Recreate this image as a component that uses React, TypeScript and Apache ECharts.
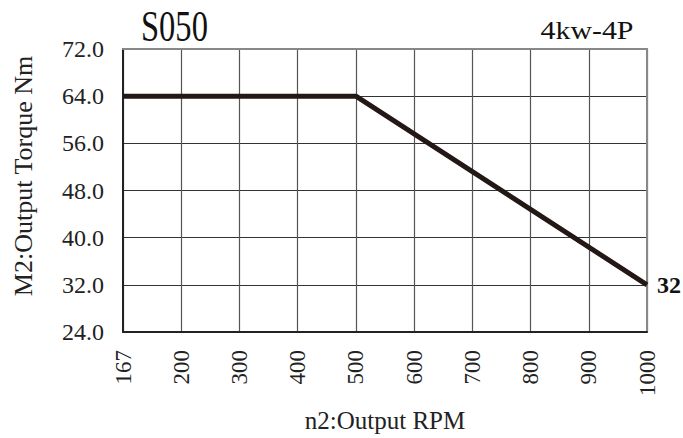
import React, { useEffect, useRef } from "react";
import * as echarts from "echarts";

const categories = ["167", "200", "300", "400", "500", "600", "700", "800", "900", "1000"];
const torque: (number | null)[] = [64, null, null, null, 64, null, null, null, null, 32];
const yMin = 24;
const yMax = 72;
const yStep = 8;
const titleText = "S050";
const subtitleText = "4kw-4P";
const endLabelText = "32";
const xAxisName = "n2:Output RPM";
const yAxisName = "M2:Output Torque Nm";

const FONT = "'Liberation Serif', 'DejaVu Serif', serif";

export default function App() {
  const ref = useRef<HTMLDivElement>(null);
  useEffect(() => {
    if (!ref.current) return;
    const chart = echarts.init(ref.current, undefined, { renderer: "svg" });
    chart.setOption({
      animation: false,
      backgroundColor: "#fff",
      grid: { left: 123, right: 36, top: 49, bottom: 100, containLabel: false },
      graphic: [
        {
          type: "text",
          x: 141,
          y: 26,
          scaleX: 0.74,
          style: {
            text: titleText,
            font: `44px ${FONT}`,
            fill: "#111",
            align: "left",
            verticalAlign: "middle",
          },
        },
        {
          type: "text",
          x: 587,
          y: 30,
          scaleX: 1.15,
          style: {
            text: subtitleText,
            font: `26px ${FONT}`,
            fill: "#111",
            align: "center",
            verticalAlign: "middle",
          },
        },
        {
          type: "text",
          x: 23,
          y: 176,
          rotation: Math.PI / 2,
          style: {
            text: yAxisName,
            font: `26px ${FONT}`,
            fill: "#222",
            align: "center",
            verticalAlign: "middle",
          },
        },
      ],
      xAxis: [
        {
          type: "category",
          data: categories,
          boundaryGap: false,
          name: xAxisName,
          nameLocation: "middle",
          nameGap: 76,
          nameTextStyle: { fontFamily: FONT, fontSize: 25, color: "#222" },
          axisLine: { lineStyle: { color: "#222", width: 2 } },
          axisTick: { show: false },
          axisLabel: {
            rotate: 90,
            margin: 18,
            interval: 0,
            fontFamily: FONT,
            fontSize: 23,
            color: "#222",
          },
          splitLine: { show: true, lineStyle: { color: "#555", width: 1.2 } },
        },
        {
          type: "category",
          data: categories,
          boundaryGap: false,
          position: "top",
          axisLine: { show: true, lineStyle: { color: "#888", width: 2 } },
          axisTick: { show: false },
          axisLabel: { show: false },
          splitLine: { show: false },
        },
      ],
      yAxis: [
        {
          type: "value",
          min: yMin,
          max: yMax,
          interval: yStep,
          axisLine: { show: true, lineStyle: { color: "#222", width: 2 } },
          axisTick: { show: false },
          axisLabel: {
            margin: 19,
            fontFamily: FONT,
            fontSize: 24,
            color: "#222",
            formatter: (v: number) => v.toFixed(1),
          },
          splitLine: { show: true, lineStyle: { color: "#333", width: 1.2 } },
        },
        {
          type: "value",
          min: yMin,
          max: yMax,
          interval: yStep,
          position: "right",
          axisLine: { show: true, lineStyle: { color: "#888", width: 2 } },
          axisTick: { show: false },
          axisLabel: { show: false },
          splitLine: { show: false },
        },
      ],
      series: [
        {
          type: "line",
          data: torque,
          connectNulls: true,
          symbol: "none",
          lineStyle: { color: "#231815", width: 5 },
          z: 5,
          endLabel: {
            show: true,
            distance: 10,
            formatter: endLabelText,
            fontFamily: FONT,
            fontWeight: "bold",
            fontSize: 24,
            color: "#111",
          },
        },
      ],
    });
    return () => chart.dispose();
  }, []);
  return <div ref={ref} style={{ width: 683, height: 438, position: "absolute", left: 0, top: 0 }} />;
}
